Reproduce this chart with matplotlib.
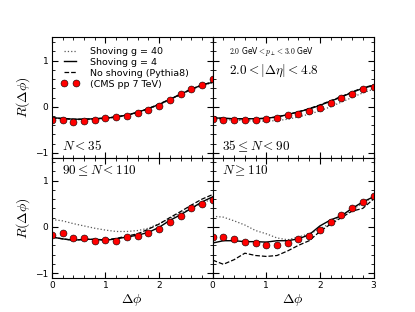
import numpy as np
import matplotlib
matplotlib.use("Agg")
import matplotlib.pyplot as plt
from matplotlib.ticker import MultipleLocator

plt.rcParams['mathtext.fontset'] = 'cm'

dphi = [0.0, 0.2, 0.4, 0.6, 0.8, 1.0, 1.2, 1.4, 1.6, 1.8, 2.0, 2.2, 2.4, 2.6, 2.8, 3.0]

panel_labels = [r'$N<35$', r'$35\leq N<90$', r'$90\leq N<110$', r'$N\geq110$']

# CMS pp 7 TeV points
cms = [
    [-0.29, -0.29, -0.32, -0.30, -0.28, -0.25, -0.23, -0.20, -0.14, -0.07, 0.02, 0.14, 0.27, 0.39, 0.48, 0.60],
    [-0.27, -0.29, -0.29, -0.29, -0.29, -0.27, -0.24, -0.18, -0.15, -0.10, -0.02, 0.08, 0.20, 0.27, 0.38, 0.43],
    [-0.17, -0.14, -0.24, -0.24, -0.30, -0.28, -0.30, -0.23, -0.19, -0.14, -0.05, 0.10, 0.24, 0.41, 0.50, 0.58],
    [-0.21, -0.23, -0.27, -0.32, -0.35, -0.39, -0.39, -0.34, -0.27, -0.19, -0.06, 0.11, 0.26, 0.41, 0.54, 0.66],
]

# shoving g = 40 (dotted)
g40 = [
    [-0.25, -0.26, -0.28, -0.28, -0.27, -0.26, -0.23, -0.19, -0.13, -0.05, 0.04, 0.15, 0.26, 0.37, 0.46, 0.52],
    [-0.27, -0.28, -0.29, -0.30, -0.31, -0.31, -0.30, -0.27, -0.22, -0.16, -0.09, 0.00, 0.10, 0.20, 0.30, 0.38],
    [0.16, 0.13, 0.07, 0.02, -0.03, -0.07, -0.10, -0.10, -0.08, -0.03, 0.07, 0.18, 0.30, 0.40, 0.51, 0.61],
    [0.23, 0.21, 0.13, 0.04, -0.08, -0.15, -0.24, -0.28, -0.22, -0.15, -0.05, 0.09, 0.23, 0.37, 0.51, 0.65],
]

# shoving g = 4 (solid)
g4 = [
    [-0.24, -0.25, -0.27, -0.27, -0.26, -0.25, -0.22, -0.18, -0.12, -0.04, 0.05, 0.16, 0.27, 0.38, 0.47, 0.53],
    [-0.24, -0.25, -0.26, -0.26, -0.26, -0.25, -0.22, -0.17, -0.11, -0.05, 0.03, 0.12, 0.21, 0.31, 0.40, 0.46],
    [-0.22, -0.26, -0.29, -0.27, -0.27, -0.29, -0.26, -0.22, -0.18, -0.12, -0.01, 0.14, 0.26, 0.40, 0.54, 0.65],
    [-0.35, -0.30, -0.30, -0.32, -0.32, -0.33, -0.30, -0.30, -0.26, -0.17, 0.02, 0.15, 0.24, 0.40, 0.54, 0.65],
]

# no shoving, Pythia8 (dashed)
noshov = [
    [-0.24, -0.26, -0.27, -0.27, -0.26, -0.24, -0.22, -0.18, -0.12, -0.04, 0.06, 0.16, 0.27, 0.38, 0.47, 0.54],
    [-0.24, -0.25, -0.26, -0.26, -0.26, -0.25, -0.22, -0.17, -0.11, -0.04, 0.04, 0.13, 0.22, 0.32, 0.41, 0.47],
    [-0.22, -0.26, -0.29, -0.27, -0.27, -0.28, -0.25, -0.20, -0.15, -0.05, 0.06, 0.20, 0.33, 0.47, 0.60, 0.70],
    [-0.72, -0.81, -0.71, -0.57, -0.62, -0.64, -0.62, -0.52, -0.40, -0.30, -0.10, 0.06, 0.20, 0.34, 0.40, 0.60],
]

fig, axes = plt.subplots(2, 2, figsize=(4.15, 3.12), dpi=100)
fig.subplots_adjust(wspace=0, hspace=0)

for i, ax in enumerate(axes.flat):
    ax.plot(dphi, g40[i], ':', color='0.35', lw=0.9, label='Shoving g = 40')
    ax.plot(dphi, g4[i], '-', color='k', lw=1.0, label='Shoving g = 4')
    ax.plot(dphi, noshov[i], '--', color='k', lw=0.9, label='No shoving (Pythia8)')
    ax.plot(dphi, cms[i], 'o', color='red', mec='k', mew=0.4, ms=5, label='(CMS pp 7 TeV)')
    ax.set_xlim(0, 3)
    ax.set_ylim(-1.1, 1.5)
    ax.xaxis.set_major_locator(MultipleLocator(1))
    ax.xaxis.set_minor_locator(MultipleLocator(0.2))
    ax.yaxis.set_major_locator(MultipleLocator(1))
    ax.yaxis.set_minor_locator(MultipleLocator(0.2))
    ax.tick_params(which='both', direction='in', top=True, right=True, labelsize=6.5, pad=2.5)
    ax.tick_params(which='major', length=4)
    ax.tick_params(which='minor', length=2)
    if i in (0, 1):
        ax.tick_params(labelbottom=False)
        ax.text(0.06, 0.06, panel_labels[i], transform=ax.transAxes, fontsize=9.5)
    else:
        ax.text(0.06, 0.86, panel_labels[i], transform=ax.transAxes, fontsize=9.5)
    if i in (1, 3):
        ax.tick_params(labelleft=False)

axes[1, 0].set_xticks([0, 1, 2])
axes[1, 0].xaxis.set_minor_locator(MultipleLocator(0.2))
for ax in axes[:, 0]:
    ax.set_ylabel(r'$R(\Delta\phi)$', fontsize=10, labelpad=2)
for ax in axes[1, :]:
    ax.set_xlabel(r'$\Delta\phi$', fontsize=10, labelpad=1)

axes[0, 0].legend(loc='upper left', fontsize=6.8, frameon=False, handlelength=1.9,
                  handletextpad=1.1, labelspacing=0.2, borderaxespad=0.6, numpoints=2)

axes[0, 1].text(0.1, 0.86, r'$2.0$ GeV$<p_\perp<$$3.0$ GeV', transform=axes[0, 1].transAxes, fontsize=5.5)
axes[0, 1].text(0.1, 0.70, r'$2.0<|\Delta\eta|<4.8$', transform=axes[0, 1].transAxes, fontsize=9.5)

fig.savefig('out.png', dpi=100)
